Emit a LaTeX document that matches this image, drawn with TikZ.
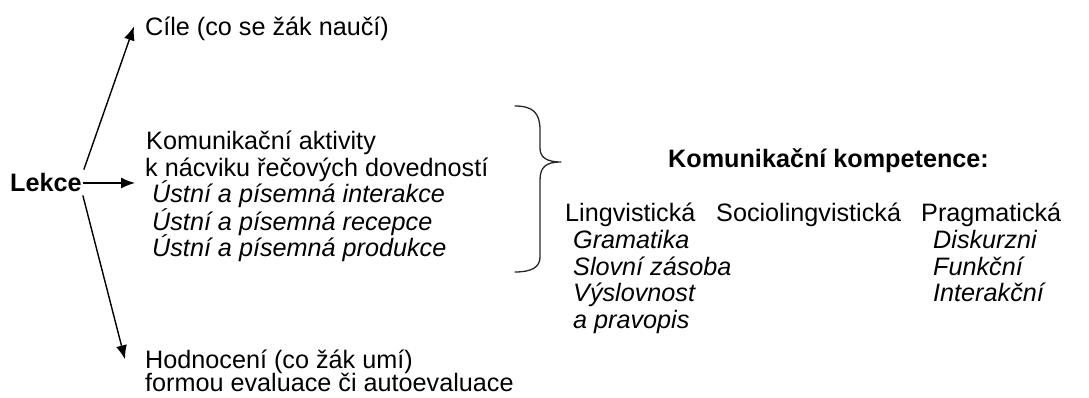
\documentclass[tikz,border=0pt]{standalone}
\usepackage{fontspec}
\setmainfont{Liberation Sans}
\usetikzlibrary{arrows.meta,positioning}

\tikzset{
  txt/.style={anchor=base west, inner sep=0pt, font=\fontsize{25.2}{26.5}\selectfont},
  itx/.style={txt, font=\fontsize{25.2}{26.5}\selectfont\itshape},
  bld/.style={txt, font=\fontsize{25.2}{26.5}\selectfont\bfseries},
  arr/.style={-{Latex[length=14pt,width=11pt]}, line width=1.4pt},
}

\begin{document}
\begin{tikzpicture}[x=1pt,y=1pt]
  \useasboundingbox (0,0) rectangle (1089,-398);
  % lesson and its three parts
  \node[bld] (lekce) at (10,-192) {Lekce};
  \node[txt] (cile) at (145,-36) {Cíle (co se žák naučí)};
  \node[txt] (akt1) at (146,-150) {Komunikační aktivity};
  \node[txt] (akt2) at (145,-177) {k nácviku řečových dovedností};
  \node[itx] (dov1) at (152,-203) {Ústní a písemná interakce};
  \node[itx] (dov2) at (152,-230) {Ústní a písemná recepce};
  \node[itx] (dov3) at (152,-256) {Ústní a písemná produkce};
  \node[txt] (hodn1) at (145,-368) {Hodnocení (co žák umí)};
  \node[txt] (hodn2) at (145,-391) {formou evaluace či autoevaluace};
  \draw[arr] ([xshift=2pt,yshift=4pt]lekce.north east) -- ([xshift=-11pt,yshift=3pt]cile.west);
  \draw[arr] ([xshift=1pt]lekce.east) -- ([xshift=-10pt]lekce.east -| akt2.west);
  \draw[arr] ([xshift=1pt,yshift=-3pt]lekce.south east) -- ([xshift=-20pt,yshift=2pt]hodn1.west);
  % brace
  \draw[line width=1.3pt, line cap=round, black!85]
    (515,-106) .. controls (533,-106) and (540,-113) .. (540,-130)
    -- (540,-148) .. controls (540,-157) and (546,-162) .. (561,-162)
    (561,-162) .. controls (546,-162) and (540,-167) .. (540,-180)
    -- (540,-257) .. controls (540,-267) and (532,-272) .. (515,-272);
  % competences
  \node[bld] (komp) at (668,-168) {Komunikační kompetence:};
  \node[txt] (ling) at (565,-222) {Lingvistická};
  \node[txt] (soc) at (716,-222) {Sociolingvistická};
  \node[txt] (prag) at (921,-222) {Pragmatická};
  \node[itx] (gram) at (573,-248) {Gramatika};
  \node[itx] (slov) at (573,-275) {Slovní zásoba};
  \node[itx] (vysl) at (573,-301) {Výslovnost};
  \node[itx] (prav) at (573,-328) {a pravopis};
  \node[itx] (disk) at (933,-248) {Diskurzni};
  \node[itx] (funk) at (933,-275) {Funkční};
  \node[itx] (inter) at (933,-301) {Interakční};
\end{tikzpicture}
\end{document}
